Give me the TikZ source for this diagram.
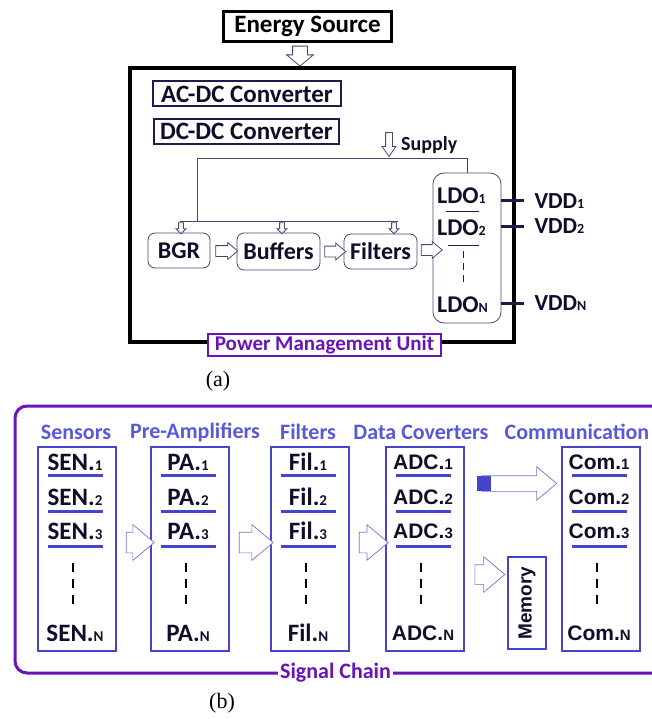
\documentclass[tikz,border=0pt]{standalone}
\usepackage{fontspec}
\setmainfont{Carlito}
\newfontfamily\arialfont{Liberation Sans}
\newfontfamily\serifletter{Liberation Serif}
\usepackage{xcolor}
\usepackage{tikz}
\definecolor{inkcolor}{RGB}{14, 14, 42}
\definecolor{navycolor}{RGB}{28, 28, 78}
\definecolor{wirecolor}{RGB}{70, 70, 110}
\definecolor{chaincolor}{RGB}{68, 68, 204}
\definecolor{headcolor}{RGB}{88, 88, 218}
\definecolor{pmucolor}{RGB}{104, 20, 184}
\usetikzlibrary{shapes.arrows, positioning, calc}

\newcommand{\low}[2][15]{{\fontsize{#1}{#1}\selectfont #2}}
\newcommand{\calentry}{\fontsize{25}{25}\selectfont\bfseries}
\newcommand{\arialentry}{\arialfont\fontsize{21}{21}\selectfont\bfseries}

\begin{document}
\begin{tikzpicture}[
    x=1pt, y=-1pt,
    srcbox/.style={draw, line width=3pt, fill=white, inner sep=0pt, minimum width=168pt, minimum height=30pt, font=\fontsize{25}{25}\selectfont\bfseries},
    pmubox/.style={draw, line width=4pt, inner sep=0pt, minimum width=384pt, minimum height=273pt},
    convbox/.style={draw=navycolor, line width=2pt, fill=white, text=inkcolor, inner sep=0pt, minimum height=25pt, font=\fontsize{25}{25}\selectfont\bfseries},
    blockbox/.style={draw=wirecolor, line width=0.8pt, rounded corners=7pt, text=inkcolor, inner sep=0pt, font=\fontsize{24}{24}\selectfont\bfseries},
    ldotext/.style={anchor=west, text=inkcolor, inner sep=0pt, font=\fontsize{24}{24}\selectfont\bfseries},
    vddtext/.style={anchor=west, text=inkcolor, inner sep=0pt, font=\fontsize{23}{23}\selectfont\bfseries},
    wire/.style={draw=wirecolor, line width=0.8pt},
    vddwire/.style={draw=navycolor, line width=3pt},
    fatarrow/.style={single arrow, draw=wirecolor, fill=white, line width=0.8pt, inner xsep=0pt, single arrow tip angle=80},
    unitlabel/.style={draw=pmucolor, line width=2pt, fill=white, text=pmucolor, inner sep=0pt, minimum width=233pt, minimum height=22pt, font=\fontsize{21}{21}\selectfont\bfseries},
    chainframe/.style={draw=pmucolor, line width=3pt, rounded corners=12pt},
    chainbox/.style={draw=chaincolor, line width=2pt, inner sep=0pt, minimum height=204pt},
    chainhead/.style={text=headcolor, inner sep=0pt, font=\fontsize{22}{22}\selectfont\bfseries},
    entryline/.style={draw=chaincolor, line width=3pt},
    dots/.style={line width=2.5pt, dash pattern=on 9pt off 7pt},
    chainarrow/.style={single arrow, draw=chaincolor!75, fill=white, line width=0.7pt, inner xsep=0pt, single arrow tip angle=80},
    caption/.style={font=\serifletter\fontsize{22}{22}\selectfont}
]
    \useasboundingbox (0,0) rectangle (651,719);

    % power management unit
    \node[srcbox] (src) at (307.5,26.5) {Energy Source};
    \node[fatarrow, rotate=-90, minimum height=20pt, inner ysep=7pt, single arrow head extend=6pt, single arrow tip angle=100] (srcarrow) at (300,53) {};
    \node[pmubox] (pmu) at (321.75,205) {};

    \node[convbox, minimum width=188pt] (acdc) at (247,94) {AC-DC Converter};
    \node[convbox, minimum width=185pt] (dcdc) at (246.5,131.5) {DC-DC Converter};

    \node[fatarrow, rotate=-90, minimum height=24pt, inner ysep=3pt, single arrow head extend=3.5pt, single arrow tip angle=70] (supplyarrow) at (389,142) {};
    \node[anchor=west, text=inkcolor, inner sep=0pt, font=\fontsize{20}{20}\selectfont\bfseries] (supply) at (401,145) {Supply};

    \node[blockbox, minimum width=62pt, minimum height=35pt] (bgr) at (179,250.5) {BGR};
    \node[blockbox, minimum width=83pt, minimum height=37pt] (buf) at (278.5,251.5) {Buffers};
    \node[blockbox, minimum width=73pt, minimum height=35pt] (filt) at (380.5,251.5) {Filters};
    \node[blockbox, rounded corners=11pt, minimum width=68pt, minimum height=150pt] (ldo) at (467,248) {};

    \coordinate (feed) at (197,158);
    \coordinate (bus) at (197,221);
    \coordinate (busl) at (180,221);
    \coordinate (busr) at (398,221);
    \draw[wire] (ldo.north) |- (feed) -- (bus);
    \draw[wire] (busl) -- (busr);
    \foreach \bx in {181, 282, 394}
        \node[fatarrow, rotate=-90, minimum height=11pt, inner ysep=2pt, single arrow head extend=2.5pt, single arrow tip angle=90] at (\bx,227) {};

    \node[fatarrow, minimum height=22pt, inner ysep=5pt, single arrow head extend=3pt] at ($(bgr.east)!0.5!(buf.west)$) {};
    \node[fatarrow, minimum height=21pt, inner ysep=5pt, single arrow head extend=3pt] at ($(buf.east)!0.5!(filt.west)$) {};
    \node[fatarrow, minimum height=21pt, inner ysep=5pt, single arrow head extend=3pt] at (428.5,250) {};

    \node[ldotext] (l1) at (437,196) {LDO\low[14]{1}};
    \node[ldotext] (l2) at (437,228) {LDO\low[14]{2}};
    \node[ldotext] (ln) at (437,305) {LDO\low[14]{N}};
    \draw[wire, draw=navycolor] (446,211) -- (479,211);
    \draw[wire, draw=navycolor] (448,245) -- (479,245);
    \draw[wire, draw=navycolor, dash pattern=on 7pt off 5pt] (463,251) -- (463,284);

    \draw[vddwire] (ldo.east |- 0,201) -- ++(23,0) coordinate (v1);
    \draw[vddwire] (ldo.east |- 0,226) -- ++(23,0) coordinate (v2);
    \draw[vddwire] (ldo.east |- 0,303) -- ++(23,0) coordinate (vn);
    \node[vddtext] at ($(v1)+(10,0)$) {VDD\low[14]{1}};
    \node[vddtext] at ($(v2)+(10,0)$) {VDD\low[14]{2}};
    \node[vddtext] at ($(vn)+(10,0)$) {VDD\low[14]{N}};

    \node[unitlabel] (pmulabel) at (324.5,345) {Power Management Unit};
    \node[caption] at (218,381) {(a)};

    % signal chain
    \draw[chainframe] (655,406) -- (15,406) -- (15,673) -- (655,673);
    \node[fill=white, text=pmucolor, inner sep=2pt, font=\fontsize{22}{22}\selectfont\bfseries] (chainlabel) at (335.5,673) {Signal Chain};

    \node[chainhead] at (76,432) {Sensors};
    \node[chainhead] at (195,432) {Pre-Amplifiers};
    \node[chainhead] at (308,432) {Filters};
    \node[chainhead] at (421,432) {Data Coverters};
    \node[chainhead] at (577,432) {Communication};

    \foreach \col/\cx/\tag/\fnt in {sen/77/SEN./\calentry, pa/190/PA./\calentry, fil/310/Fil./\calentry, adc/425/ADC./\arialentry, com/601/Com./\arialentry} {
        \node[chainbox, minimum width=78pt] (\col) at (\cx,549) {};
        \foreach \k/\ky in {1/462, 2/497, 3/531, N/633}
            \node[text=inkcolor, inner sep=0pt] at (\cx-2,\ky) {\fnt\tag\low{\k}};
        \foreach \ly in {475, 511, 546}
            \draw[entryline] (\cx-29,\ly) -- (\cx+26,\ly);
        \draw[dots] (\cx-4,563) -- (\cx-4,607);
    }

    \node[draw=chaincolor, line width=2pt, rotate=90, inner sep=0pt, minimum width=92pt, minimum height=38pt, text=inkcolor, font=\arialfont\fontsize{19}{19}\selectfont\bfseries] (mem) at (527,603) {Memory};

    \node[chainarrow, minimum height=28pt, inner ysep=10pt, single arrow head extend=7.5pt] at (134,542.5) {};
    \node[chainarrow, minimum height=34pt, inner ysep=10pt, single arrow head extend=7.5pt] at (250,542.5) {};
    \node[chainarrow, minimum height=29pt, inner ysep=10pt, single arrow head extend=7.5pt] at (367.5,542.5) {};
    \node[chainarrow, minimum height=30pt, inner ysep=9.5pt, single arrow head extend=8pt] (memarrow) at (484,574.5) {};
    \node[chainarrow, minimum height=75pt, inner ysep=7.5pt, single arrow head extend=9pt] (comarrow) at (514.5,483.5) {};
    \fill[chaincolor] (477,476) rectangle (491,491);

    \node[caption] at (222,703) {(b)};
\end{tikzpicture}
\end{document}
